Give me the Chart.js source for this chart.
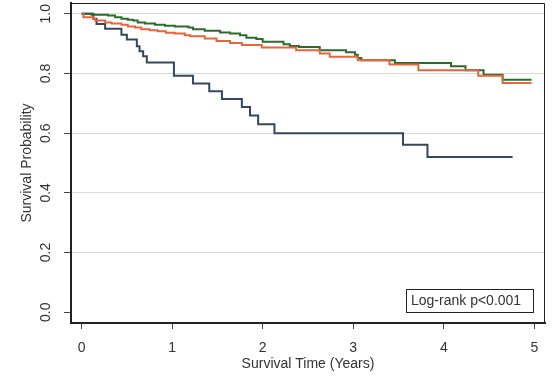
<!DOCTYPE html>
<html>
<head>
<meta charset="utf-8">
<script src="https://cdn.jsdelivr.net/npm/chart.js@4/dist/chart.umd.min.js"></script>
<style>
  body { margin: 0; background: #fff; }
  #wrap { width: 560px; height: 377px; }
</style>
</head>
<body>
<div id="wrap"><canvas id="km" width="560" height="377"></canvas></div>
<script>
// Kaplan-Meier curves (time in years, survival probability)
const greenTime = [0, 0.11, 0.29, 0.37, 0.44, 0.51, 0.57, 0.62, 0.70, 0.81, 0.92, 1.03, 1.18, 1.23, 1.36, 1.53, 1.64, 1.75, 1.82, 1.93, 2.00, 2.23, 2.30, 2.40, 2.63, 2.92, 3.02, 3.05, 3.09, 3.46, 4.08, 4.24, 4.44, 4.65, 4.97];
const greenSurv = [1.0, 0.997, 0.994, 0.988, 0.983, 0.980, 0.977, 0.971, 0.967, 0.963, 0.960, 0.957, 0.954, 0.948, 0.943, 0.937, 0.934, 0.928, 0.920, 0.915, 0.906, 0.898, 0.892, 0.889, 0.878, 0.871, 0.863, 0.852, 0.844, 0.835, 0.824, 0.811, 0.796, 0.779, 0.779];

const orangeTime = [0, 0.02, 0.13, 0.15, 0.26, 0.33, 0.44, 0.51, 0.59, 0.66, 0.75, 0.84, 0.93, 1.03, 1.14, 1.20, 1.36, 1.49, 1.64, 1.77, 1.99, 2.37, 2.63, 2.74, 3.05, 3.40, 3.72, 4.38, 4.65, 4.97];
const orangeSurv = [1.0, 0.988, 0.982, 0.977, 0.971, 0.967, 0.963, 0.957, 0.954, 0.948, 0.945, 0.941, 0.936, 0.934, 0.928, 0.925, 0.917, 0.909, 0.902, 0.895, 0.887, 0.878, 0.867, 0.856, 0.844, 0.830, 0.811, 0.792, 0.768, 0.768];

const blueTime = [0, 0.13, 0.165, 0.26, 0.44, 0.50, 0.61, 0.64, 0.68, 0.72, 1.02, 1.23, 1.41, 1.55, 1.77, 1.86, 1.95, 2.13, 3.55, 3.82, 4.76];
const blueSurv = [1.0, 0.983, 0.966, 0.950, 0.930, 0.914, 0.891, 0.874, 0.858, 0.837, 0.792, 0.766, 0.740, 0.714, 0.688, 0.659, 0.630, 0.600, 0.561, 0.520, 0.520];

const xTicks = [0, 1, 2, 3, 4, 5];
const yTicks = [0, 0.2, 0.4, 0.6, 0.8, 1.0];
const xTitle = 'Survival Time (Years)';
const yTitle = 'Survival Probability';
const noteText = 'Log-rank p<0.001';

const FONT = 'Arial, "Liberation Sans", sans-serif';
const TEXT = '#333';

function pts(t, s) {
    return t.map((v, i) => ({ x: v, y: s[i] }));
}

function line(data, color) {
    return {
        data: data,
        borderColor: color,
        borderWidth: 2,
        pointRadius: 0,
        stepped: 'before',
        fill: false
    };
}

// frame on top/right and the log-rank box
const framePlugin = {
    id: 'frame',
    afterDraw(chart) {
        const { ctx, chartArea: a } = chart;
        ctx.save();
        ctx.strokeStyle = '#222';
        ctx.lineWidth = 1;
        ctx.beginPath();
        ctx.moveTo(a.left, a.top + 0.5);
        ctx.lineTo(a.right - 0.5, a.top + 0.5);
        ctx.lineTo(a.right - 0.5, a.bottom);
        ctx.stroke();

        const bx = a.right - 139, by = a.bottom - 34, bw = 127, bh = 23;
        ctx.fillStyle = '#fff';
        ctx.fillRect(bx, by, bw, bh);
        ctx.strokeRect(bx + 0.5, by + 0.5, bw, bh);
        ctx.fillStyle = TEXT;
        ctx.font = '14px ' + FONT;
        ctx.textBaseline = 'middle';
        ctx.textAlign = 'left';
        ctx.fillText(noteText, bx + 5, by + bh / 2 + 1);
        ctx.restore();
    }
};

new Chart(document.getElementById('km'), {
    type: 'line',
    data: {
        datasets: [
            line(pts(orangeTime, orangeSurv), '#e4663f'),
            line(pts(greenTime, greenSurv), '#2b6b2f'),
            line(pts(blueTime, blueSurv), '#34475f')
        ]
    },
    options: {
        responsive: false,
        animation: false,
        layout: { padding: { left: 0, right: 15, top: 3, bottom: 0 } },
        plugins: { legend: { display: false }, tooltip: { enabled: false } },
        scales: {
            x: {
                type: 'linear',
                min: -0.117,
                max: 5.118,
                afterBuildTicks: s => { s.ticks = xTicks.map(v => ({ value: v })); },
                afterFit: s => { s.height = 54; s.paddingLeft = 0; s.paddingRight = 0; },
                grid: { drawOnChartArea: false, drawTicks: true, tickLength: 6, tickColor: '#444' },
                border: { color: '#222', width: 2 },
                ticks: { color: TEXT, font: { family: FONT, size: 14 }, padding: 11, maxRotation: 0 },
                title: { display: true, text: xTitle, color: TEXT, font: { family: FONT, size: 14 }, padding: { top: 0, bottom: 4.5 } }
            },
            y: {
                min: -0.036,
                max: 1.036,
                afterBuildTicks: s => { s.ticks = yTicks.map(v => ({ value: v })); },
                afterFit: s => { s.width = 71; s.paddingTop = 0; s.paddingBottom = 0; },
                grid: {
                    color: c => (c.tick && c.tick.value === 0 ? 'rgba(0,0,0,0)' : '#d9d9d9'),
                    lineWidth: 1,
                    drawTicks: true,
                    tickLength: 7,
                    tickColor: '#444'
                },
                border: { color: '#222', width: 2 },
                ticks: {
                    color: TEXT,
                    font: { family: FONT, size: 14 },
                    minRotation: 90,
                    maxRotation: 90,
                    crossAlign: 'center',
                    padding: 8,
                    callback: v => v.toFixed(1)
                },
                title: { display: true, text: yTitle, color: TEXT, font: { family: FONT, size: 14 }, padding: { top: 19, bottom: 0 } }
            }
        }
    },
    plugins: [framePlugin]
});
</script>
</body>
</html>
